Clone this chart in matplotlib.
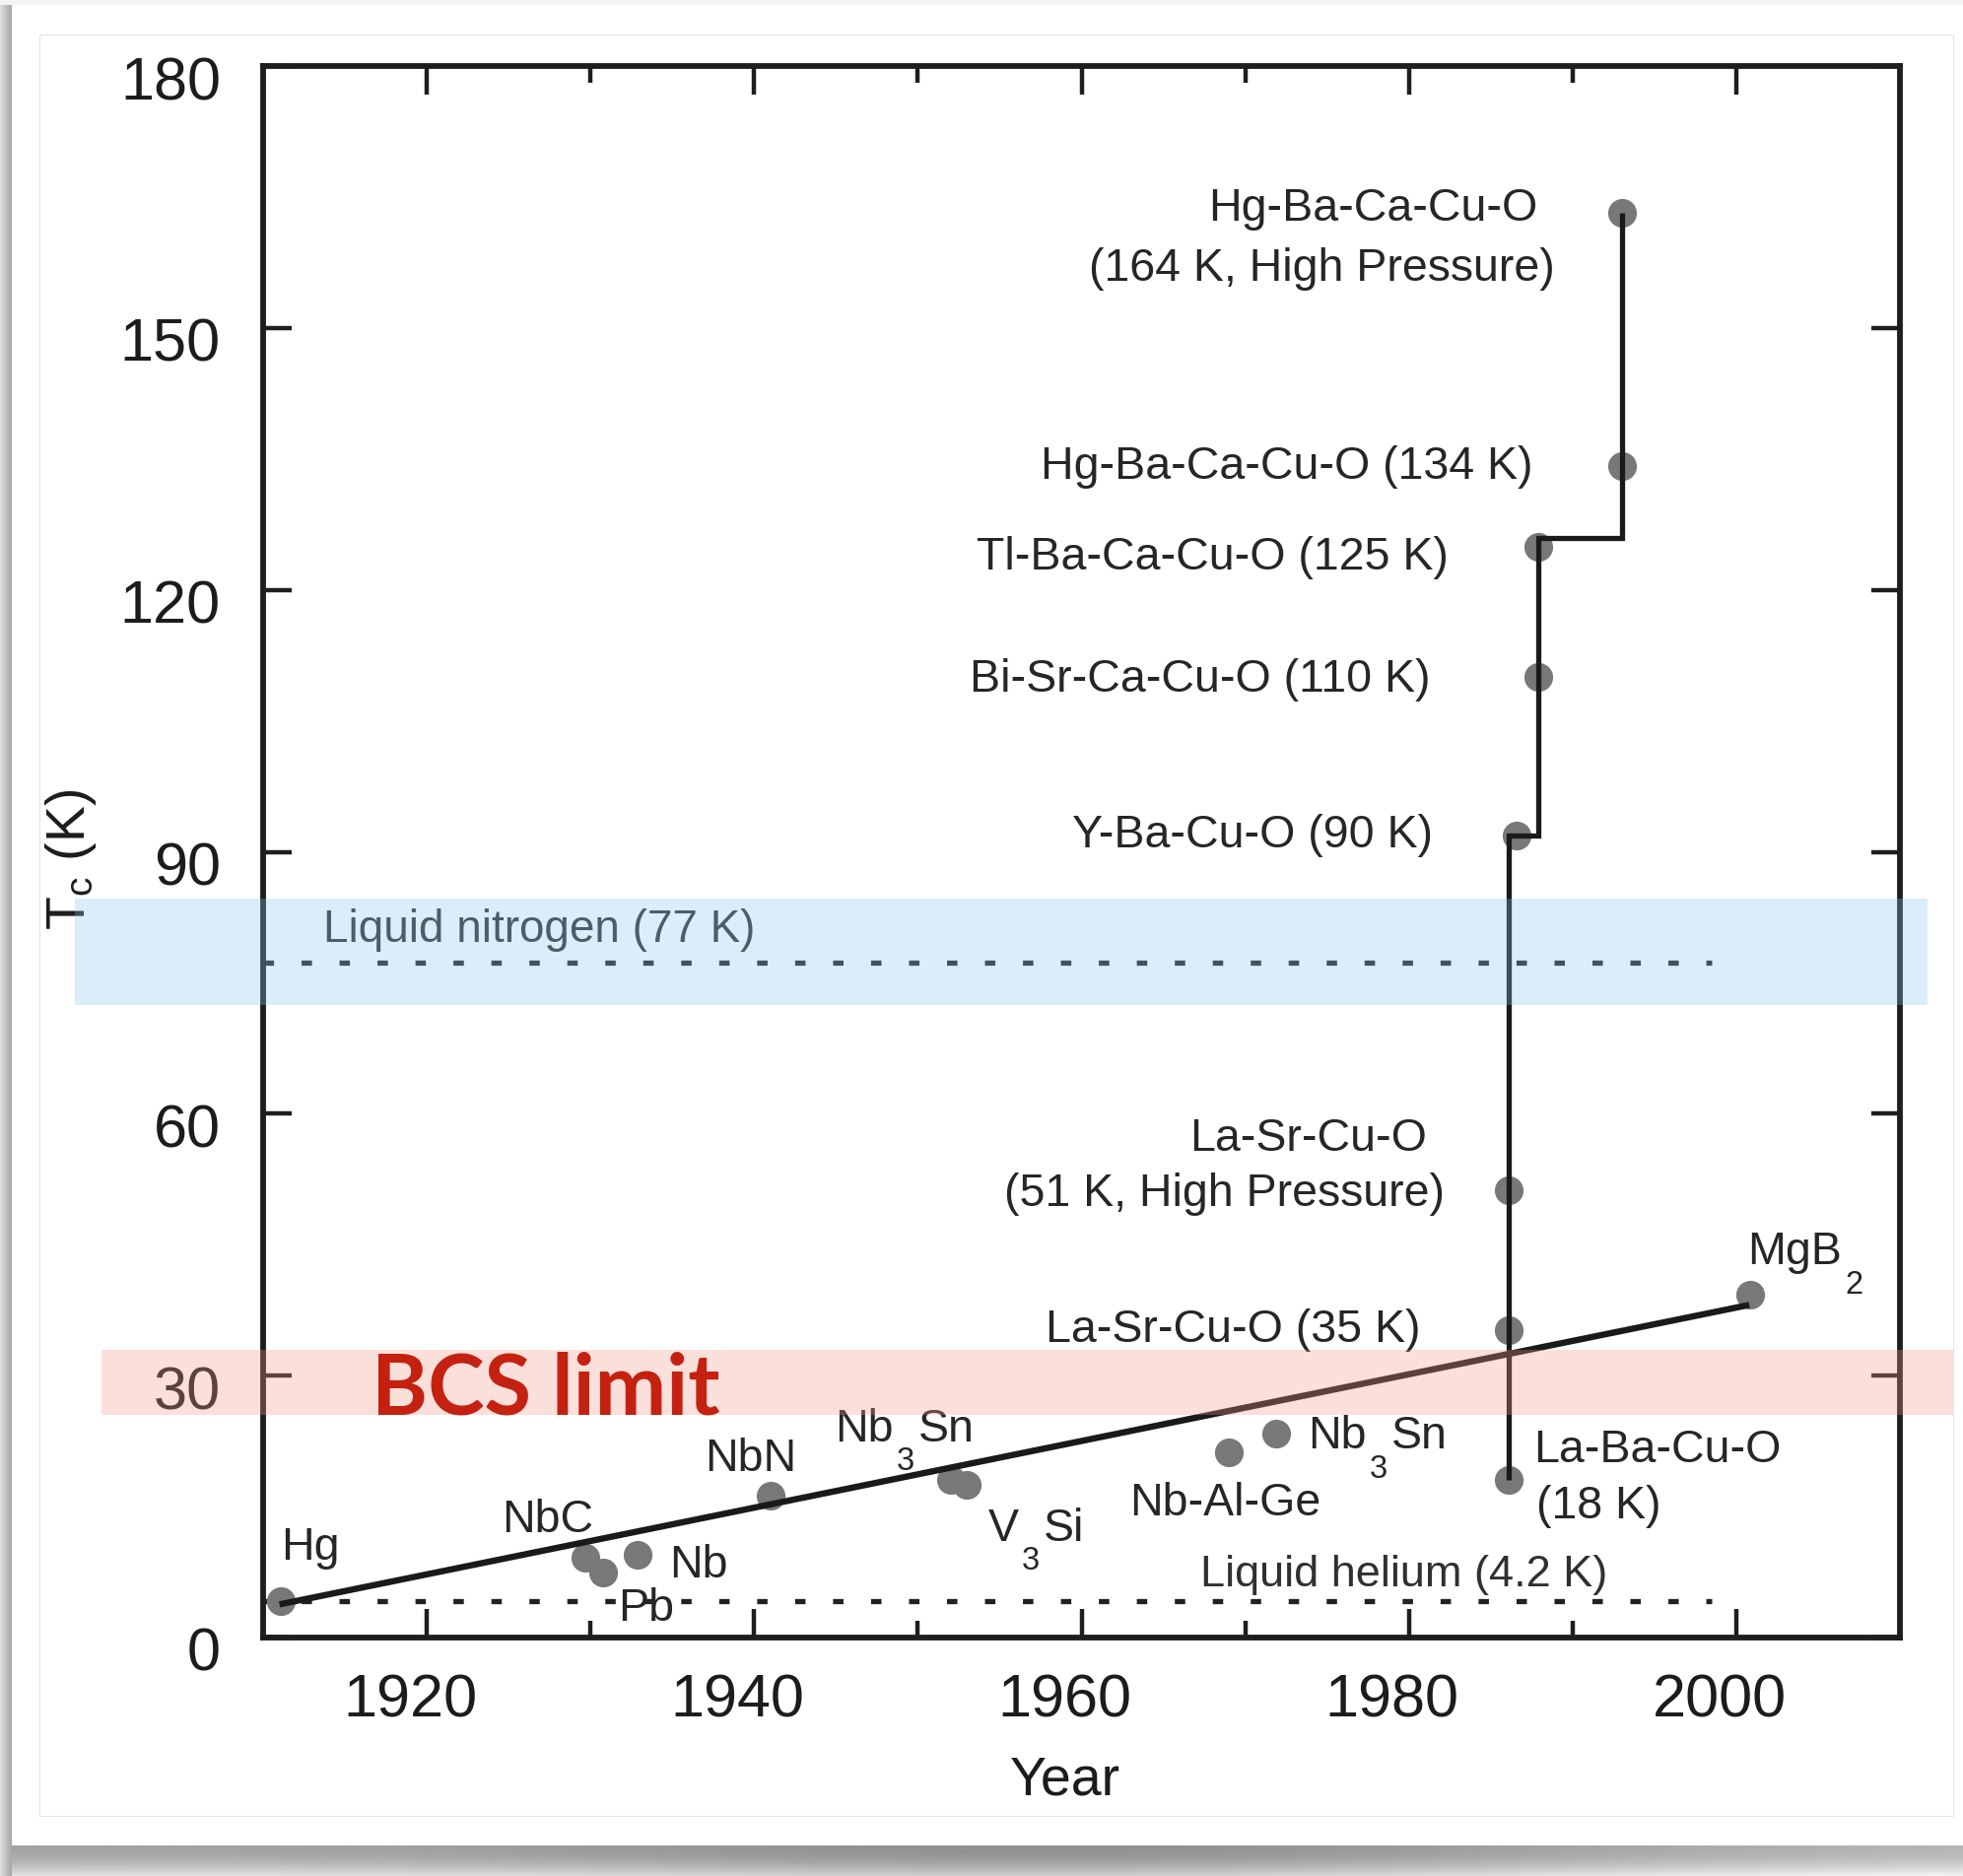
import numpy as np
import matplotlib
matplotlib.use('Agg')
import matplotlib.pyplot as plt
from matplotlib.patches import Rectangle
from matplotlib.transforms import ScaledTranslation

plt.rcParams['font.family'] = ['Liberation Sans', 'DejaVu Sans']
plt.rcParams['mathtext.default'] = 'regular'

# Superconductor discoveries: year and critical temperature (K)
MAT_YEAR = [1911.1, 1929.7, 1930.8, 1932.9, 1941.0, 1952.05, 1953.0, 1969.0,
            1971.9, 1986.1, 1986.1, 1986.1, 1986.6, 1987.9, 1987.9, 1993.0,
            1993.0, 2000.85]
MAT_TC = [4.2, 9.1, 7.5, 9.5, 16.2, 18.1, 17.5, 21.2,
          23.4, 18.1, 35.2, 51.2, 91.9, 110.0, 124.9, 134.2,
          163.2, 39.3]

# conventional superconductors trend
TREND_YEAR = [1911.0, 2000.8]
TREND_TC = [3.8, 38.1]

# cuprate record staircase
STEP_YEAR = [1986.1, 1986.1, 1987.9, 1987.9, 1993.0, 1993.0]
STEP_TC = [18.1, 91.9, 91.9, 126.0, 126.0, 163.2]

# coolants
N2_TC = 77.3
HE_TC = 4.2
COOLANT_YEARS = [1910, 1998.5]

N2_BAND = (72.5, 84.6)
BCS_BAND = (25.5, 33.0)

X_MAJOR = [1920, 1940, 1960, 1980, 2000]
X_MINOR = [1930, 1950, 1970, 1990]
Y_TICKS = [0, 30, 60, 90, 120, 150, 180]

# (text, x, y, ha) - y is the text baseline
LABELS = [
    ('Hg-Ba-Ca-Cu-O', 1987.85, 162.3, 'right'),
    ('(164 K, High Pressure)', 1988.9, 155.4, 'right'),
    ('Hg-Ba-Ca-Cu-O (134 K)', 1987.6, 132.7, 'right'),
    ('Tl-Ba-Ca-Cu-O (125 K)', 1982.4, 122.3, 'right'),
    ('Bi-Sr-Ca-Cu-O (110 K)', 1981.3, 108.3, 'right'),
    ('Y-Ba-Cu-O (90 K)', 1981.45, 90.5, 'right'),
    ('La-Sr-Cu-O', 1981.1, 55.8, 'right'),
    ('(51 K, High Pressure)', 1982.2, 49.4, 'right'),
    ('La-Sr-Cu-O (35 K)', 1980.7, 33.9, 'right'),
    ('La-Ba-Cu-O', 1987.6, 20.1, 'left'),
    ('(18 K)', 1987.8, 13.6, 'left'),
    ('Hg', 1911.1, 8.9, 'left'),
    ('NbC', 1924.6, 12.1, 'left'),
    ('Pb', 1931.7, 1.9, 'left'),
    ('Nb', 1934.8, 6.9, 'left'),
    ('NbN', 1937.0, 19.1, 'left'),
    ('Nb-Al-Ge', 1962.9, 14.0, 'left'),
]

# formulas with subscripts: parts alternate normal / subscript
CHEM_LABELS = [
    (['Nb', '3', 'Sn'], 1944.95, 22.5),
    (['V', '3', 'Si'], 1954.3, 11.1),
    (['Nb', '3', 'Sn'], 1973.85, 21.7),
    (['MgB', '2'], 2000.7, 42.8),
]

TEXT = '#262626'
FS = 33.5
FS_SUB = 23.5


def chem(ax, x, y, parts):
    main = ax.text(x, y, parts[0], fontsize=FS, color=TEXT,
                   ha='left', va='baseline', zorder=3)
    prev, prev_main = main, main
    for i, s in enumerate(parts[1:], start=1):
        if i % 2 == 1:
            prev = ax.annotate(s, xy=(1, 0), xycoords=prev,
                               xytext=(2, 3), textcoords='offset points',
                               fontsize=FS_SUB, color=TEXT,
                               ha='left', va='top', zorder=3)
        else:
            prev = ax.annotate(s, xy=(1, 0), xycoords=(prev, prev_main),
                               xytext=(3, 0), textcoords='offset points',
                               fontsize=FS, color=TEXT,
                               ha='left', va='bottom', zorder=3)
            prev_main = prev


fig = plt.figure(figsize=(19.92, 19.04), dpi=100, facecolor='white')

# card background with shadow
bg = fig.add_axes([0, 0, 1, 1], zorder=-10)
bg.set_xlim(0, 1992)
bg.set_ylim(1904, 0)
bg.axis('off')
bg.add_patch(Rectangle((0, 0), 1992, 5, color='#f4f4f4', lw=0))
left_grad = np.linspace(0.87, 0.66, 12)[None, :]
bg.imshow(left_grad, cmap='gray', vmin=0, vmax=1, aspect='auto',
          extent=(0, 12, 1904, 5), interpolation='bilinear')
xs = np.linspace(0, 1, 200)
base = 0.64 - 0.12 * np.exp(-((xs - 0.55) / 0.3) ** 2) + 0.08 * xs
rows = np.linspace(0, 1, 31)[:, None]
shadow = base[None, :] + 0.25 * rows ** 2
bg.imshow(shadow, cmap='gray', vmin=0, vmax=1, aspect='auto',
          extent=(12, 1992, 1904, 1873), interpolation='bilinear')
bg.add_patch(Rectangle((40, 35), 1942, 1808, fill=False,
                       ec='#e6e6e6', lw=0.8))

ax = fig.add_axes([267 / 1992, (1904 - 1662) / 1904, 1661 / 1992, 1595 / 1904])
ax.set_facecolor('none')
ax.set_xlim(1910, 2010)
ax.set_ylim(0, 180)

# coolant lines
for tc in (N2_TC, HE_TC):
    ax.plot(COOLANT_YEARS, [tc, tc], ls=(0, (2.0, 5.3)), lw=3.8,
            color='#222222', zorder=2)

ax.plot(MAT_YEAR, MAT_TC, 'o', ms=21, color='#787878', mec='none', zorder=3)
ax.plot(TREND_YEAR, TREND_TC, '-', lw=4.6, color='#1a1a1a',
        solid_capstyle='butt', zorder=4)
ax.plot(STEP_YEAR, STEP_TC, '-', lw=3.8, color='#1a1a1a',
        solid_joinstyle='miter', solid_capstyle='butt', zorder=4)

for txt, x, y, ha in LABELS:
    ax.text(x, y, txt, fontsize=FS, color=TEXT, ha=ha, va='baseline', zorder=3)
for parts, x, y in CHEM_LABELS:
    chem(ax, x, y, parts)

ax.text(1913.7, 79.7, 'Liquid nitrogen (77 K)', fontsize=33, color='#303030',
        ha='left', va='baseline', zorder=3)
ax.text(1967.25, 5.9, 'Liquid helium (4.2 K)', fontsize=32.5, color='#303030',
        ha='left', va='baseline', zorder=3)

# highlight bands
ax.add_patch(Rectangle((1898.5, N2_BAND[0]), 2011.7 - 1898.5,
                       N2_BAND[1] - N2_BAND[0], facecolor='#87c6ee',
                       alpha=0.3, lw=0, clip_on=False, zorder=5))
ax.add_patch(Rectangle((1900.1, BCS_BAND[0]), 2013.25 - 1900.1,
                       BCS_BAND[1] - BCS_BAND[0], facecolor='#f5988a',
                       alpha=0.3, lw=0, clip_on=False, zorder=5))
ax.text(1916.6, 25.6, 'BCS limit', fontsize=62.5, fontweight='bold',
        family=['Lato', 'DejaVu Sans'], color='#c42110',
        ha='left', va='baseline', zorder=6)

# axes styling
for sp in ax.spines.values():
    sp.set_linewidth(4.2)
    sp.set_color('#1e1e1e')
ax.set_xticks(X_MAJOR)
ax.set_xticks(X_MINOR, minor=True)
ax.set_yticks(Y_TICKS)
ax.set_xticklabels([str(v) for v in X_MAJOR])
ax.set_yticklabels([str(v) for v in Y_TICKS])
ax.tick_params(which='both', direction='in', top=True, right=True,
               color='#1e1e1e', width=3.2)
ax.tick_params(which='major', length=21, labelsize=44, labelcolor='#1c1c1c')
ax.tick_params(axis='x', which='major', pad=26)
ax.tick_params(axis='y', which='major', pad=31)
ax.tick_params(which='minor', length=12)

xoff = ScaledTranslation(-17 / 100, 0, fig.dpi_scale_trans)
for lbl in ax.get_xticklabels():
    lbl.set_transform(lbl.get_transform() + xoff)
yoff = ScaledTranslation(0, -12 / 100, fig.dpi_scale_trans)
for lbl in ax.get_yticklabels():
    lbl.set_transform(lbl.get_transform() + yoff)

ax.text(0.49, -0.0915, 'Year', transform=ax.transAxes, fontsize=40,
        color='#1c1c1c', ha='center', va='center')
ax.text(-0.1175, 0.495, r'T$_{\mathregular{c}}$ (K)', transform=ax.transAxes,
        fontsize=40, color='#1c1c1c', rotation=90, ha='center', va='center')

fig.savefig('out.png', dpi=100, facecolor=fig.get_facecolor())
